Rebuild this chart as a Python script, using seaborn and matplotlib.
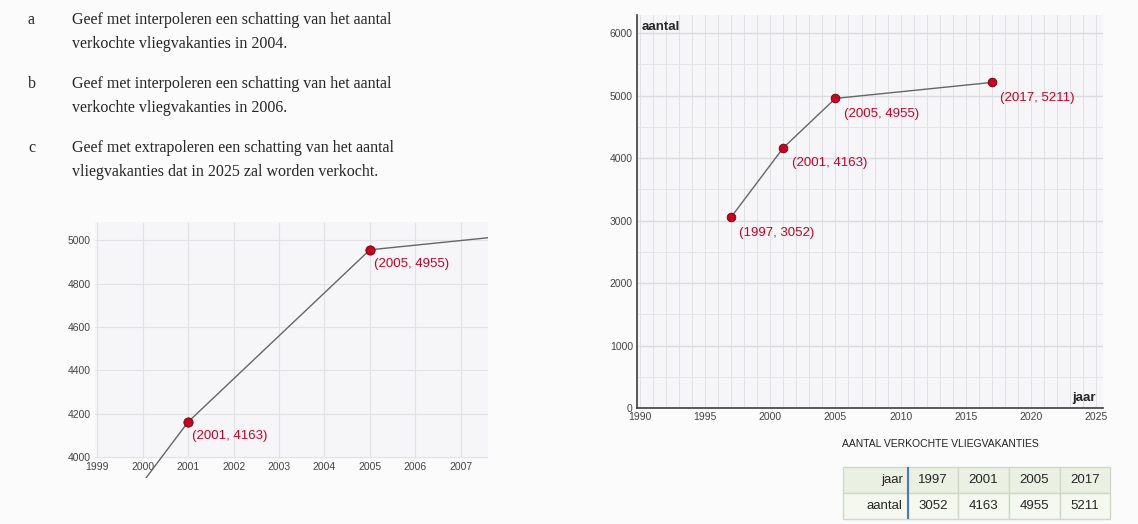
import numpy as np
import pandas as pd
import matplotlib
matplotlib.use('Agg')
import matplotlib.pyplot as plt
import seaborn as sns

# data
jaar = [1997, 2001, 2005, 2017]
aantal = [3052, 4163, 4955, 5211]
vragen = [
    ('a', 'Geef met interpoleren een schatting van het aantal', 'verkochte vliegvakanties in 2004.'),
    ('b', 'Geef met interpoleren een schatting van het aantal', 'verkochte vliegvakanties in 2006.'),
    ('c', 'Geef met extrapoleren een schatting van het aantal', 'vliegvakanties dat in 2025 zal worden verkocht.'),
]
df = pd.DataFrame({'jaar': jaar, 'aantal': aantal})

sns.set_theme(style='white', font='Liberation Sans')
W, H = 1138, 524
fig = plt.figure(figsize=(W / 100, H / 100), dpi=100, facecolor='#fbfbfb')
red = '#cc0022'
grid_c = '#e2e2e6'
tick_c = '#444444'

def px(x0, y0, x1, y1):
    return [x0 / W, 1 - y1 / H, (x1 - x0) / W, (y1 - y0) / H]

# vragen tekst
for i, (letter, r1, r2) in enumerate(vragen):
    y = 20 + i * 64
    fig.text(28 / W, 1 - y / H, letter, fontsize=11.5, family='Liberation Serif', va='center')
    fig.text(72 / W, 1 - y / H, r1, fontsize=11.5, family='Liberation Serif', va='center')
    fig.text(72 / W, 1 - (y + 24) / H, r2, fontsize=11.5, family='Liberation Serif', va='center')

# grote grafiek rechts
ax = fig.add_axes(px(637, 15, 1103, 408))
ax.set_facecolor('#f6f6f8')
ax.set_xlim(1989.8, 2025.5)
ax.set_ylim(0, 6290)
for x in range(1990, 2026):
    ax.axvline(x, color=grid_c, lw=0.7, zorder=0)
for yv in range(0, 6001, 500):
    ax.axhline(yv, color=grid_c if yv % 1000 else '#dcdce0', lw=0.6 if yv % 1000 else 1.0, zorder=0)
sns.lineplot(data=df, x='jaar', y='aantal', ax=ax, color='#666666', lw=1, zorder=2)
sns.scatterplot(data=df, x='jaar', y='aantal', ax=ax, color=red, edgecolor='#550000', s=40, zorder=3)
for x, yv in zip(jaar, aantal):
    ax.annotate(f'({x}, {yv})', (x, yv), xytext=(6, -11), textcoords='offset points',
                color=red, fontsize=9.5, va='center')
ax.set_xticks(range(1990, 2026, 5))
ax.set_yticks(range(0, 6001, 1000))
ax.tick_params(labelsize=7.5, colors=tick_c, length=0, pad=3)
ax.set_xlabel('')
ax.set_ylabel('')
for s in ['top', 'right']:
    ax.spines[s].set_visible(False)
for s in ['left', 'bottom']:
    ax.spines[s].set_color('#444444')
ax.text(0.01, 0.985, 'aantal', transform=ax.transAxes, fontsize=9.5, weight='bold', va='top')
ax.text(0.985, 0.01, 'jaar', transform=ax.transAxes, fontsize=9.5, weight='bold', ha='right', va='bottom')

# ingezoomde grafiek links
ax2 = fig.add_axes(px(95, 222, 488, 478))
ax2.set_facecolor('#fbfbfb')
ax2.set_xlim(1998.95, 2007.6)
ax2.set_ylim(3905, 5083)
ax2.add_patch(plt.Rectangle((1998.95, 4000), 8.65, 1083, color='#f6f6f8', zorder=0))
ax2.vlines(range(1999, 2008), 4000, 5083, color=grid_c, lw=0.8, zorder=0)
for yv in range(4000, 5001, 200):
    ax2.axhline(yv, color=grid_c, lw=0.8, zorder=0)
sns.lineplot(data=df, x='jaar', y='aantal', ax=ax2, color='#666666', lw=1, zorder=2)
sub = df[df['jaar'].isin([2001, 2005])]
sns.scatterplot(data=sub, x='jaar', y='aantal', ax=ax2, color=red, edgecolor='#550000', s=45, zorder=3)
for x, yv in zip(sub['jaar'], sub['aantal']):
    ax2.annotate(f'({x}, {yv})', (x, yv), xytext=(3, -10), textcoords='offset points',
                 color=red, fontsize=9.5, va='center')
ax2.set_xticks(range(1999, 2008))
ax2.set_yticks(range(4000, 5001, 200))
ax2.spines['bottom'].set_position(('data', 4000))
for s in ax2.spines.values():
    s.set_visible(False)
ax2.tick_params(labelsize=7.5, colors=tick_c, length=0, pad=3)
ax2.set_xlabel('')
ax2.set_ylabel('')

# tabel
fig.text(940 / W, 1 - 444 / H, 'AANTAL VERKOCHTE VLIEGVAKANTIES', fontsize=7.5, ha='center', va='center', color='#222222')
tab = fig.add_axes(px(843, 467, 1110, 519))
tab.axis('off')
cell = [['jaar'] + [str(j) for j in jaar], ['aantal'] + [str(a) for a in aantal]]
t = tab.table(cellText=cell, cellLoc='center', bbox=[0, 0, 1, 1],
              colWidths=[65, 50, 51, 51, 50])
t.auto_set_font_size(False)
for (r, c), cl in t.get_celld().items():
    cl.set_fontsize(9.5)
    cl.set_edgecolor('#d0d8c8')
    cl.set_facecolor('#eaf1e2' if r == 0 else '#f4f8ef')
    if c == 0:
        cl.get_text().set_ha('right')
        cl.PAD = 0.08
tab.plot([65 / 267, 65 / 267], [0, 1], color='#4a78b0', lw=1.5, transform=tab.transAxes, zorder=5)

fig.savefig('out.png', dpi=100, facecolor=fig.get_facecolor())
